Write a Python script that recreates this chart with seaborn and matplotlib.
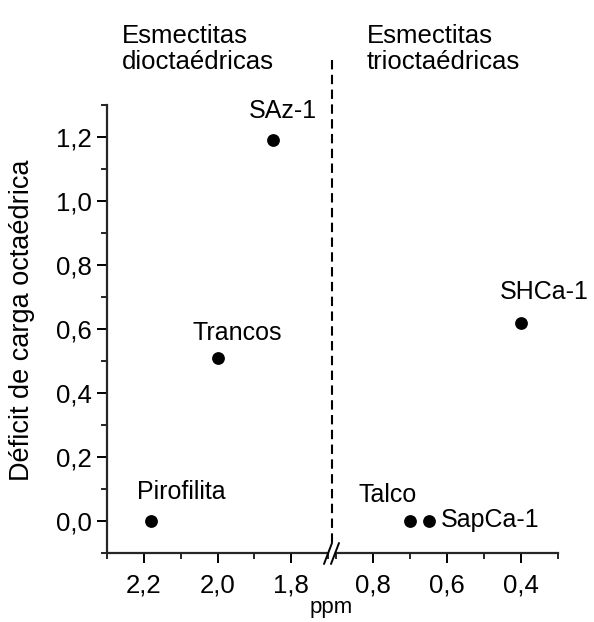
import matplotlib
matplotlib.use("Agg")
import matplotlib.pyplot as plt
import seaborn as sns
import pandas as pd
from matplotlib.lines import Line2D
from matplotlib.ticker import MultipleLocator, FuncFormatter, FixedLocator

sns.set_theme(style="ticks")
plt.rcParams['font.family'] = ['Liberation Sans', 'DejaVu Sans']

# ---- data ----
names = ["Pirofilita", "Trancos", "SAz-1", "Talco", "SapCa-1", "SHCa-1"]
ppm = [2.18, 2.00, 1.85, 0.70, 0.65, 0.40]
deficit = [0.00, 0.51, 1.19, 0.00, 0.00, 0.62]
group_titles = ["Esmectitas\ndioctaédricas", "Esmectitas\ntrioctaédricas"]
xticks_left = [2.2, 2.0, 1.8]
xticks_right = [0.8, 0.6, 0.4]
yticks = [0.0, 0.2, 0.4, 0.6, 0.8, 1.0, 1.2]
xlabel = "ppm"
ylabel = "Déficit de carga octaédrica"

df = pd.DataFrame({"name": names, "ppm": ppm, "deficit": deficit})
left_df = df[df["ppm"] > 1.5]
right_df = df[df["ppm"] <= 1.5]

W, H = 594, 622
fig = plt.figure(figsize=(W / 100, H / 100), dpi=100)
fig.patch.set_facecolor("white")

axL = fig.add_axes([107 / W, 1 - 553 / H, 221 / W, 448 / H])
axR = fig.add_axes([336 / W, 1 - 553 / H, 222 / W, 448 / H], sharey=axL)

FS_TICK = 18.5
FS_LAB = 18
fmt = FuncFormatter(lambda v, p: f"{v:.1f}".replace(".", ","))

for ax, d, xlim, xt in [(axL, left_df, (2.3, 1.7), xticks_left),
                        (axR, right_df, (0.9, 0.3), xticks_right)]:
    sns.scatterplot(data=d, x="ppm", y="deficit", ax=ax, color="black",
                    s=85, linewidth=0, legend=False, clip_on=False, zorder=5)
    ax.set_xlim(*xlim)
    ax.set_facecolor("white")
    ax.set_xlabel("")
    ax.set_ylabel("")
    ax.xaxis.set_major_locator(FixedLocator(xt))
    ax.xaxis.set_minor_locator(MultipleLocator(0.1))
    ax.xaxis.set_major_formatter(fmt)
    ax.spines["top"].set_visible(False)
    ax.spines["right"].set_visible(False)
    ax.spines["bottom"].set_linewidth(1.6)
    ax.tick_params(axis="x", which="major", length=7, width=1.4, pad=8,
                   labelsize=FS_TICK, color="black", labelcolor="black")
    ax.tick_params(axis="x", which="minor", length=4.5, width=1.2, color="black")

axL.set_ylim(-0.1, 1.3)
axL.yaxis.set_major_locator(FixedLocator(yticks))
axL.yaxis.set_minor_locator(MultipleLocator(0.1))
axL.yaxis.set_major_formatter(fmt)
axL.spines["left"].set_linewidth(1.6)
axL.tick_params(axis="y", which="major", length=7, width=1.4, pad=4,
                labelsize=FS_TICK, color="black", labelcolor="black")
axL.tick_params(axis="y", which="minor", length=4.5, width=1.2, color="black")

axR.spines["left"].set_visible(False)
axR.tick_params(axis="y", which="both", left=False, labelleft=False)

# point labels (offsets in points)
offsets = {
    "Pirofilita": (22, 21, "center"),
    "Trancos": (14, 18, "center"),
    "SAz-1": (7, 21, "center"),
    "Talco": (-16, 19, "center"),
    "SapCa-1": (9, 1, "left"),
    "SHCa-1": (17, 22, "center"),
}
for _, r in df.iterrows():
    ax = axL if r["ppm"] > 1.5 else axR
    dx, dy, ha = offsets[r["name"]]
    ax.annotate(r["name"], (r["ppm"], r["deficit"]), xytext=(dx, dy),
                textcoords="offset points", ha=ha, va="center",
                fontsize=FS_LAB, color="black")

# group titles
fig.text(122 / W, 1 - 24 / H, group_titles[0], ha="left", va="top",
         fontsize=18.5, linespacing=1.08, color="black")
fig.text(367 / W, 1 - 24 / H, group_titles[1], ha="left", va="top",
         fontsize=18.5, linespacing=1.08, color="black")

# dashed separator
fig.add_artist(Line2D([332 / W, 332 / W], [1 - 60 / H, 1 - 546 / H],
                      transform=fig.transFigure, color="black", lw=1.5,
                      linestyle=(0, (4.5, 2.6))))

# axis break marks
for x0 in (324, 331):
    fig.add_artist(Line2D([x0 / W, (x0 + 8) / W], [1 - 564 / H, 1 - 543 / H],
                          transform=fig.transFigure, color="black", lw=1.4))

# axis labels
fig.text(22 / W, 1 - 320 / H, ylabel, rotation=90, ha="center", va="center",
         fontsize=19.5, color="black")
fig.text(331 / W, 1 - 608 / H, xlabel, ha="center", va="center",
         fontsize=16, color="black")

fig.savefig("out.png", dpi=100, facecolor="white")
